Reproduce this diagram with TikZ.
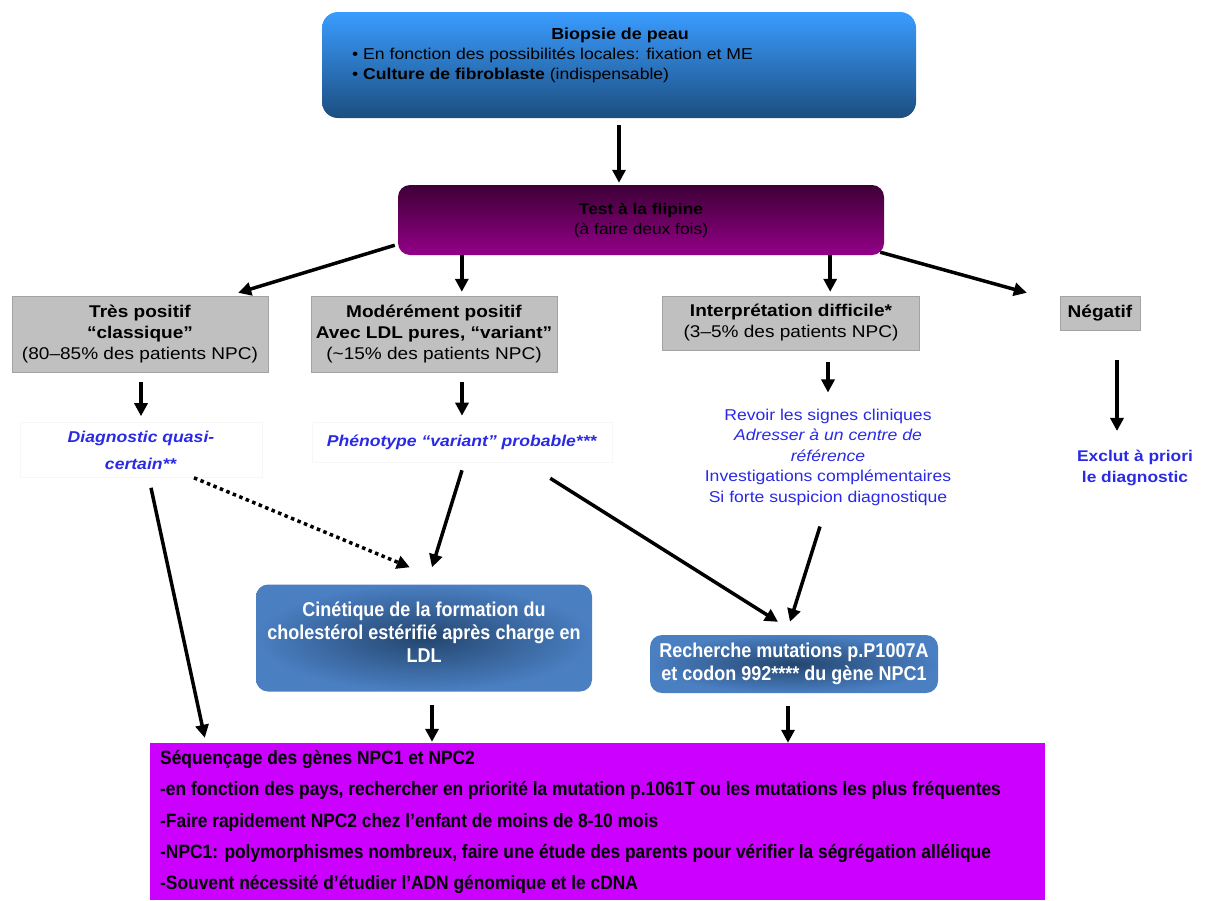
\documentclass[tikz,border=0pt]{standalone}
\usepackage{fontspec}
\setmainfont{Liberation Sans}
\newfontfamily\wf{Liberation Sans}[FakeStretch=1.12]
\newfontfamily\nf{Liberation Sans}[FakeStretch=0.9]
\usetikzlibrary{arrows.meta,calc}
\definecolor{topA}{HTML}{3A9CFF}
\definecolor{topB}{HTML}{1C4E80}
\definecolor{purA}{HTML}{3E0036}
\definecolor{purB}{HTML}{940088}
\definecolor{grayb}{HTML}{C0C0C0}
\definecolor{bluet}{HTML}{2A2AE6}
\definecolor{cinIn}{HTML}{24466F}
\definecolor{cinOut}{HTML}{4A7FC2}
\definecolor{mag}{HTML}{CC00FF}
\begin{document}
\begin{tikzpicture}[x=1pt,y=-1pt,
  arr/.style={line width=3.5pt,-{Triangle[length=13pt,width=13pt]}},
  dotarr/.style={line width=3.5pt,dash pattern=on 3.5pt off 3.5pt,-{Triangle[length=13pt,width=13pt]}},
  graybox/.style={fill=grayb,draw=grayb!85!black,line width=0.4pt,inner sep=0pt,align=center,font=\wf\fontsize{17}{21}\selectfont},
  faint/.style={draw=black!3,line width=0.6pt,inner sep=0pt,align=center},
  bluetxt/.style={text=bluet,align=center,font=\wf\fontsize{15.7}{20.5}\selectfont},
  darkbox/.style={rounded corners=12pt,inner sep=0pt,inner color=cinIn,outer color=cinOut},
  darktxt/.style={align=center,text=white,inner sep=0pt,font=\nf\bfseries\fontsize{20}{23}\selectfont}
]
\useasboundingbox (0,0) rectangle (1205,900);

% top box
\node[rounded corners=16pt,top color=topA,bottom color=topB,minimum width=594pt,minimum height=106pt,inner sep=0pt] (biop) at (619,65) {};
\node[font=\wf\bfseries\fontsize{16}{19}\selectfont] (biopT) at (620,35) {Biopsie de peau};
\node[anchor=west,font=\wf\fontsize{15.7}{19}\selectfont,inner sep=0pt] (biopA) at (352,55) {\textbullet\ En fonction des possibilités locales: fixation et ME};
\node[anchor=west,font=\wf\fontsize{15.7}{19}\selectfont,inner sep=0pt] (biopB) at (352,75) {\textbullet\ \textbf{Culture de fibroblaste} (indispensable)};

% test box
\node[rounded corners=12pt,top color=purA,bottom color=purB,minimum width=486pt,minimum height=70pt,inner sep=0pt,align=center,font=\wf\fontsize{15.5}{20}\selectfont] (test) at (641,220) {\textbf{Test à la flipine}\\(à faire deux fois)};

% gray boxes
\node[graybox,minimum width=256pt,minimum height=76pt] (g1) at (140,334) {\textbf{Très positif}\\\textbf{“classique”}\\(80–85\% des patients NPC)};
\node[graybox,minimum width=246pt,minimum height=76pt] (g2) at (434,334) {\textbf{Modérément positif}\\\textbf{Avec LDL pures, “variant”}\\(\textasciitilde15\% des patients NPC)};
\node[graybox,minimum width=257pt,minimum height=54pt] (g3) at (791,323) {\textbf{Interprétation difficile*}\\(3–5\% des patients NPC)};
\node[graybox,minimum width=80pt,minimum height=34pt] (neg) at (1100,313) {\textbf{Négatif}};

% blue texts
\node[faint,bluetxt,font=\wf\fontsize{15.7}{27}\selectfont,minimum width=242pt,minimum height=55pt] (diag) at (141,450) {\textbf{\itshape Diagnostic quasi-}\\\textbf{\itshape certain**}};
\node[faint,bluetxt,minimum width=300pt,minimum height=40pt] (pheno) at (462,442) {\textbf{\itshape Phénotype “variant” probable***}};
\node[bluetxt,inner sep=0pt] (list) at (828,457) {Revoir les signes cliniques\\\textit{Adresser à un centre de}\\\textit{référence}\\Investigations complémentaires\\Si forte suspicion diagnostique};
\node[bluetxt,font=\wf\bfseries\fontsize{15.5}{21}\selectfont,inner sep=0pt] (excl) at (1135,468) {Exclut à priori\\le diagnostic};

% middle boxes
\node[darkbox,minimum width=336pt,minimum height=107pt] (cin) at (424,638) {};
\node[darktxt] (cinT) at (424,632) {Cinétique de la formation du\\cholestérol estérifié après charge en\\LDL};
\node[darkbox,minimum width=288pt,minimum height=58pt] (rech) at (794,664) {};
\node[darktxt] (rechT) at (794,664) {Recherche mutations p.P1007A\\et codon 992**** du gène NPC1};

% bottom box
\node[fill=mag,minimum width=895pt,minimum height=157pt,inner sep=0pt] (seq) at (597.5,821.5) {};
\node[anchor=west,align=left,inner sep=0pt,font=\nf\bfseries\fontsize{19.3}{31.3}\selectfont] (seqT) at (160,822) {Séquençage des gènes NPC1 et NPC2\\-en fonction des pays, rechercher en priorité la mutation p.1061T ou les mutations les plus fréquentes\\-Faire rapidement NPC2 chez l’enfant de moins de 8-10 mois\\-NPC1: polymorphismes nombreux, faire une étude des parents pour vérifier la ségrégation allélique\\-Souvent nécessité d’étudier l’ADN génomique et le cDNA};

% connectors
\draw[arr,shorten <=7pt,shorten >=2pt] (biop.south) -- (biop.south |- test.north);
\draw[arr] ([xshift=-3pt,yshift=10pt]test.south west) -- ([xshift=-30pt,yshift=3pt]g1.north east);
\draw[arr,shorten >=4pt] ([xshift=64pt]test.south west) -- ([xshift=64pt]test.south west |- g2.north);
\draw[arr,shorten >=4pt] ([xshift=-54pt]test.south east) -- ([xshift=-54pt]test.south east |- g3.north);
\draw[arr] ([xshift=-4pt,yshift=3pt]test.south east) -- ([xshift=-33pt,yshift=3pt]neg.north west);
\draw[arr,shorten <=10pt,shorten >=6pt] (g1.south -| diag.north) -- (diag.north);
\draw[arr,shorten <=10pt,shorten >=6pt] (g2.south -| pheno.north) -- (pheno.north);
\draw[arr,shorten <=12pt,shorten >=6pt] (g3.south -| list.north) -- ([yshift=10pt]list.north);
\draw[arr,shorten <=30pt] ([xshift=17pt]neg.south) -- ([xshift=17pt,yshift=19pt]neg.south |- excl.north);
\draw[arr] ([xshift=10pt,yshift=-10pt]diag.south) -- ([xshift=55pt,yshift=5pt]seq.north west);
\draw[dotarr] ([xshift=53pt]diag.south) -- ([xshift=154pt,yshift=17pt]cin.north west);
\draw[arr] ([yshift=-8pt]pheno.south) -- ([xshift=8pt,yshift=17pt]cin.north);
\draw[arr] ([xshift=-62pt,yshift=-16pt]pheno.south east) -- ([xshift=-16pt,yshift=13pt]rech.north);
\draw[arr] ([xshift=-8pt,yshift=-21pt]list.south) -- ([xshift=-4pt,yshift=13pt]rech.north);
\draw[arr,shorten <=13pt,shorten >=1pt] ([xshift=8pt]cin.south) -- ([xshift=8pt]cin.south |- seq.north);
\draw[arr,shorten <=13pt] ([xshift=-6pt]rech.south) -- ([xshift=-6pt]rech.south |- seq.north);
\end{tikzpicture}
\end{document}
